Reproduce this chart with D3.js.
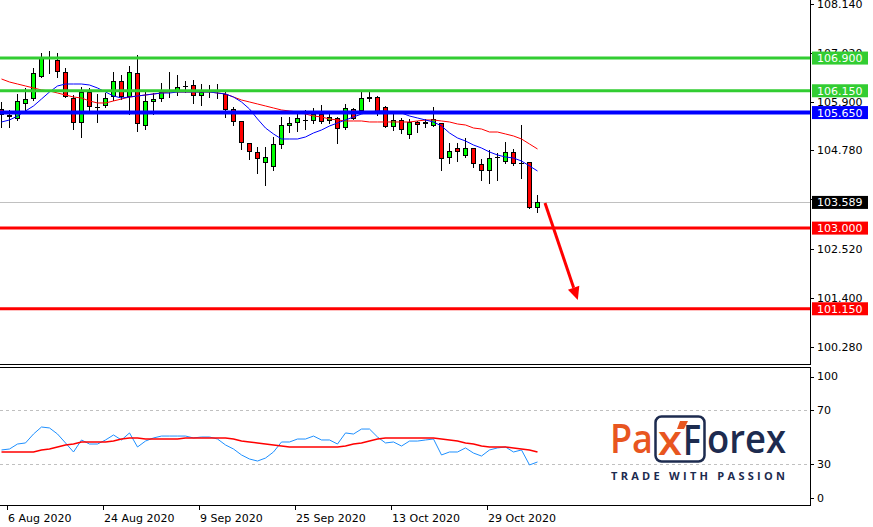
<!DOCTYPE html>
<html><head><meta charset="utf-8">
<script src="https://cdn.jsdelivr.net/npm/d3@7"></script>
<style>
body{margin:0;background:#fff}
svg{display:block}
text{font-family:"DejaVu Sans",sans-serif;font-size:11px}
</style>
</head><body>
<svg id="c" width="873" height="527"></svg>
<script>
// ---------- DATA ----------
const dates = ["2020-08-05","2020-08-06","2020-08-07","2020-08-10","2020-08-11","2020-08-12","2020-08-13","2020-08-14","2020-08-17","2020-08-18","2020-08-19","2020-08-20","2020-08-21","2020-08-24","2020-08-25","2020-08-26","2020-08-27","2020-08-28","2020-08-31",
"2020-09-01","2020-09-02","2020-09-03","2020-09-04","2020-09-07","2020-09-08","2020-09-09","2020-09-10","2020-09-11","2020-09-14","2020-09-15","2020-09-16","2020-09-17","2020-09-18","2020-09-21","2020-09-22","2020-09-23","2020-09-24","2020-09-25","2020-09-28","2020-09-29","2020-09-30",
"2020-10-01","2020-10-02","2020-10-05","2020-10-06","2020-10-07","2020-10-08","2020-10-09","2020-10-12","2020-10-13","2020-10-14","2020-10-15","2020-10-16","2020-10-19","2020-10-20","2020-10-21","2020-10-22","2020-10-23","2020-10-26","2020-10-27","2020-10-28","2020-10-29","2020-10-30",
"2020-11-02","2020-11-03","2020-11-04","2020-11-05","2020-11-06"];

const open  = [105.731,105.594,105.502,105.846,105.961,106.465,106.900,106.855,106.580,105.984,105.410,106.121,105.777,105.800,106.007,106.374,106.007,106.557,105.342,105.892,105.961,106.160,106.144,106.259,106.282,106.029,106.150,106.140,106.075,105.731,105.456,104.952,104.746,104.493,104.402,104.906,105.342,105.410,105.479,105.456,105.617,105.456,105.525,105.296,105.731,105.685,105.961,106.007,105.777,105.319,105.479,105.135,105.433,105.387,105.342,105.410,104.608,104.837,104.654,104.837,104.470,104.310,104.608,104.516,104.746,104.500,104.516,103.461];
const high  = [105.892,105.708,106.075,106.213,106.672,107.016,107.060,107.016,106.672,106.052,106.236,106.213,106.075,106.098,106.580,106.511,106.718,106.970,106.121,106.098,106.328,106.580,106.511,106.374,106.397,106.305,106.282,106.305,106.121,105.777,105.456,104.952,104.860,104.860,105.090,105.548,105.548,105.640,105.708,105.754,105.823,105.662,105.548,105.846,105.754,106.121,106.144,106.029,105.800,105.640,105.525,105.502,105.456,105.502,105.777,105.410,104.952,104.952,105.067,104.837,104.585,104.792,104.723,104.975,104.815,105.365,104.516,103.760];
const low   = [105.319,105.319,105.479,105.662,105.938,106.465,106.557,106.465,106.007,105.273,105.090,105.708,105.433,105.777,105.938,105.961,105.617,105.227,105.273,105.617,105.915,106.007,106.052,106.121,105.869,105.823,106.007,105.984,105.548,105.365,104.815,104.585,104.264,103.989,104.333,104.837,105.204,105.227,105.273,105.410,105.410,105.410,104.952,105.273,105.502,105.662,105.915,105.594,105.319,105.250,105.181,105.067,105.204,105.319,105.342,104.333,104.493,104.539,104.631,104.402,104.103,104.035,104.103,104.493,104.448,104.149,103.461,103.370];
const close = [105.594,105.548,105.915,105.961,106.557,106.901,106.890,106.580,106.007,105.410,106.121,105.777,105.780,105.984,106.374,106.007,106.580,105.387,105.915,105.961,106.121,106.150,106.236,106.262,106.029,106.121,106.140,106.150,105.708,105.433,104.952,104.746,104.585,104.631,104.929,105.365,105.410,105.525,105.482,105.617,105.433,105.548,105.273,105.754,105.502,105.984,106.007,105.617,105.319,105.479,105.250,105.433,105.365,105.433,105.502,104.585,104.769,104.746,104.837,104.470,104.310,104.608,104.631,104.746,104.470,104.493,103.461,103.589];

// moving averages
const maFast = [105.434,105.480,105.571,105.686,105.801,105.961,106.122,106.260,106.305,106.305,106.305,106.282,106.214,106.122,106.030,105.984,106.007,106.030,106.053,106.076,106.099,106.099,106.122,106.122,106.122,106.122,106.122,106.099,106.076,106.007,105.893,105.732,105.503,105.296,105.159,105.044,105.044,105.044,105.090,105.182,105.250,105.342,105.411,105.480,105.549,105.617,105.663,105.686,105.686,105.663,105.640,105.571,105.526,105.480,105.434,105.342,105.182,105.067,104.998,104.906,104.837,104.746,104.677,104.631,104.608,104.539,104.425,104.310];
const maSlow = [106.420,106.351,106.305,106.260,106.214,106.168,106.145,106.099,106.053,106.007,105.984,105.916,105.870,105.870,105.916,105.961,106.007,106.030,106.053,106.076,106.099,106.122,106.122,106.122,106.122,106.122,106.122,106.099,106.076,106.007,105.938,105.893,105.847,105.801,105.755,105.709,105.686,105.663,105.617,105.571,105.549,105.503,105.480,105.457,105.457,105.457,105.434,105.434,105.434,105.434,105.434,105.434,105.457,105.480,105.480,105.457,105.434,105.388,105.365,105.296,105.273,105.204,105.204,105.159,105.113,105.044,104.929,104.815];

// RSI panel
const rsi = [40.4,41.1,44.8,45.6,52.2,57.4,56.7,52.2,45.6,38.9,47.8,44.8,44.8,47.8,51.5,47.8,53.0,42.6,47.0,49.3,50.7,50.7,50.7,50.7,49.3,50.0,50.0,48.5,44.1,41.1,36.7,33.7,32.2,34.4,38.9,46.3,46.3,48.5,48.5,50.7,47.8,47.8,44.8,53.0,52.2,55.9,55.9,50.0,45.6,46.3,43.3,47.0,47.0,47.8,48.5,36.7,38.9,38.9,41.9,38.1,35.9,40.4,41.9,42.6,38.9,40.4,29.3,31.5];
const rsiSignal = [38.9,38.9,38.9,38.9,38.9,40.4,41.1,42.6,44.1,44.8,46.3,46.3,46.3,46.3,47.0,48.5,49.3,49.3,48.5,48.5,48.5,48.5,48.5,49.3,49.3,49.3,49.3,49.3,49.3,48.5,47.0,46.3,45.6,44.8,44.1,43.3,42.6,42.6,42.6,42.6,42.6,42.6,42.6,43.3,44.8,45.6,47.0,48.5,49.3,49.3,49.3,49.3,49.3,49.3,49.3,48.5,47.8,47.0,45.6,44.8,43.3,42.6,42.6,42.6,41.9,41.1,40.4,38.9];

const priceTicks = [108.140,107.020,105.900,104.780,103.660,102.520,101.400,100.280];
const levels     = [106.900,106.150,105.650,103.000,101.150];
const levelKinds = ["res","res","pivot","sup","sup"];
const rsiTicks   = [100,70,30,0];
const rsiLevels  = [70,30];
const dateTickIdx = [1,13,25,37,49,61];
const arrowFrom = [68, 103.576];
const arrowTo   = [72.1, 101.35];

// ---------- DRAW ----------
const svg = d3.select("#c");
svg.append("rect").attr("width",873).attr("height",527).attr("fill","#fff");

const W = 810, mainBottom = 365, rsiTop = 367, rsiBottom = 505;
const x  = d3.scaleLinear().domain([0, dates.length-1]).range([1, 1 + 8*(dates.length-1)]);
const y  = d3.scaleLinear().domain([100.28, 108.14]).range([346.7, 4]);
const yr = d3.scaleLinear().domain([0, 100]).range([504.5, 369.5]);
const parse = d3.timeParse("%Y-%m-%d");
const fmtDate = d3.timeFormat("%-d %b %Y");

const defs = svg.append("defs");
defs.append("clipPath").attr("id","cm").append("rect").attr("x",0).attr("y",0).attr("width",W).attr("height",mainBottom);
defs.append("clipPath").attr("id","cr").append("rect").attr("x",0).attr("y",rsiTop).attr("width",W).attr("height",rsiBottom-rsiTop);

const main = svg.append("g").attr("clip-path","url(#cm)");

// current price line
const last = close[close.length-1];
main.append("line").attr("x1",0).attr("x2",W)
  .attr("y1",Math.round(y(last))+0.5).attr("y2",Math.round(y(last))+0.5)
  .attr("stroke","#c0c0c0").attr("stroke-width",1);

// candles
const candles = main.append("g");
dates.forEach((d,i)=>{
  const cx = Math.round(x(i));
  const g = candles.append("g");
  g.append("line").attr("x1",cx+0.5).attr("x2",cx+0.5)
    .attr("y1",Math.round(y(high[i]))).attr("y2",Math.round(y(low[i]))+1)
    .attr("stroke","#000").attr("stroke-width",1);
  const yo = Math.round(y(open[i])), yc = Math.round(y(close[i]));
  const top = Math.min(yo,yc), bot = Math.max(yo,yc);
  if (bot - top < 2) {
    g.append("line").attr("x1",cx-2).attr("x2",cx+3).attr("y1",top+0.5).attr("y2",top+0.5)
      .attr("stroke","#000").attr("stroke-width",1);
  } else {
    g.append("rect").attr("x",cx-1.5).attr("y",top+0.5).attr("width",4).attr("height",bot-top-1)
      .attr("fill", close[i] >= open[i] ? "#00ff00" : "#ff0000")
      .attr("stroke","#000").attr("stroke-width",1);
  }
});

// moving averages
const lineP = arr => d3.line().x((d,i)=>x(i)+0.5).y(d=>y(d))(arr);
main.append("path").attr("d",lineP(maSlow)).attr("fill","none").attr("stroke","#ff0000").attr("stroke-width",1);
main.append("path").attr("d",lineP(maFast)).attr("fill","none").attr("stroke","#0000ff").attr("stroke-width",1);

// horizontal levels
const levelColor = {res:"#32cd32", pivot:"#0000ff", sup:"#ff0000"};
const levelWidth = {res:3, pivot:4, sup:3};
levels.forEach((v,i)=>{
  main.append("line").attr("x1",0).attr("x2",W).attr("y1",y(v)).attr("y2",y(v))
    .attr("stroke",levelColor[levelKinds[i]]).attr("stroke-width",levelWidth[levelKinds[i]]);
});

// arrow
{
  const x1 = x(arrowFrom[0]), y1 = y(arrowFrom[1]);
  const x2 = x(arrowTo[0]),   y2 = y(arrowTo[1]);
  const ang = Math.atan2(y2-y1, x2-x1);
  const hl = 13, hw = 6;
  const bx = x2 - hl*Math.cos(ang), by = y2 - hl*Math.sin(ang);
  svg.append("line").attr("x1",x1).attr("y1",y1).attr("x2",bx).attr("y2",by)
    .attr("stroke","#ff0000").attr("stroke-width",3);
  const px = -Math.sin(ang), py = Math.cos(ang);
  svg.append("path").attr("d",`M${x2},${y2}L${bx+hw*px},${by+hw*py}L${bx-hw*px},${by-hw*py}Z`)
    .attr("fill","#ff0000");
}

// frames
const frame = svg.append("g").attr("stroke","#000").attr("stroke-width",1).attr("shape-rendering","crispEdges");
frame.append("line").attr("x1",0).attr("x2",W+1).attr("y1",mainBottom-0.5).attr("y2",mainBottom-0.5);
frame.append("line").attr("x1",W+0.5).attr("x2",W+0.5).attr("y1",0).attr("y2",mainBottom);
frame.append("line").attr("x1",0).attr("x2",W+1).attr("y1",rsiTop+0.5).attr("y2",rsiTop+0.5);
frame.append("line").attr("x1",W+0.5).attr("x2",W+0.5).attr("y1",rsiTop).attr("y2",rsiBottom+1);
frame.append("line").attr("x1",0).attr("x2",W+1).attr("y1",rsiBottom+0.5).attr("y2",rsiBottom+0.5);

// price axis
const pa = svg.append("g");
const last_y = y(last);
priceTicks.forEach(v=>{
  const yy = Math.round(y(v));
  pa.append("line").attr("x1",W).attr("x2",W+4).attr("y1",yy+0.5).attr("y2",yy+0.5).attr("stroke","#000");
  // a tick label fully covered by the last-price marker is not visible
  if (Math.abs(y(v) - last_y) > 5)
    pa.append("text").attr("x",817).attr("y",yy).attr("dy","0.36em").attr("fill","#000").text(v.toFixed(3));
});
// level labels
const fmtP = d3.format(".3f");
levels.forEach((v,i)=>{
  const yy = y(v);
  pa.append("rect").attr("x",812).attr("y",yy-6.5).attr("width",56).attr("height",13)
    .attr("fill",levelColor[levelKinds[i]]);
  pa.append("text").attr("x",817).attr("y",yy).attr("dy","0.36em").attr("fill","#fff").text(fmtP(v));
});
pa.append("rect").attr("x",812).attr("y",last_y-6.5).attr("width",56).attr("height",13).attr("fill","#000");
pa.append("text").attr("x",817).attr("y",last_y).attr("dy","0.36em").attr("fill","#fff").text(fmtP(last));

// RSI panel
const rp = svg.append("g").attr("clip-path","url(#cr)");
rsiLevels.forEach(v=>{
  rp.append("line").attr("x1",0).attr("x2",W).attr("y1",Math.round(yr(v))+0.5).attr("y2",Math.round(yr(v))+0.5)
    .attr("stroke","#c0c0c0").attr("stroke-dasharray","3,3");
});
const lineR = arr => d3.line().x((d,i)=>x(i)+0.5).y(d=>yr(d))(arr);
rp.append("path").attr("d",lineR(rsi)).attr("fill","none").attr("stroke","#1e90ff").attr("stroke-width",1);
rp.append("path").attr("d",lineR(rsiSignal)).attr("fill","none").attr("stroke","#ff0000").attr("stroke-width",1.6);

rsiTicks.forEach(v=>{
  let yy = yr(v);
  if (v === 100) yy += 7; if (v === 0) yy -= 6.5;
  svg.append("line").attr("x1",W).attr("x2",W+4).attr("y1",Math.round(yy)+0.5).attr("y2",Math.round(yy)+0.5).attr("stroke","#000");
  svg.append("text").attr("x",817).attr("y",yy).attr("dy","0.36em").text(v);
});

// date axis
dateTickIdx.forEach(i=>{
  const xx = Math.round(x(i)) - 2;
  svg.append("line").attr("x1",xx+0.5).attr("x2",xx+0.5).attr("y1",rsiBottom+1).attr("y2",rsiBottom+5).attr("stroke","#000");
  svg.append("text").attr("x",xx+1).attr("y",522).text(fmtDate(parse(dates[i])));
});

// logo
const logo = svg.append("g");
const orange = "#e8561f", navy = "#1d2b4f";
const lf = "'Open Sans',sans-serif";
logo.append("rect").attr("x",655.5).attr("y",416.5).attr("width",49).attr("height",45).attr("rx",6)
  .attr("fill","none").attr("stroke",navy).attr("stroke-width",2.5);
logo.append("text").attr("x",610).attr("y",453).attr("fill",orange)
  .style("font-family",lf).style("font-size","40px").style("font-weight",600)
  .attr("textLength",43).attr("lengthAdjust","spacingAndGlyphs").text("Pa");
logo.append("text").attr("x",658).attr("y",455).attr("fill",orange)
  .style("font-family",lf).style("font-size","42px").style("font-weight",600)
  .attr("textLength",24).attr("lengthAdjust","spacingAndGlyphs").text("x");
logo.append("path").attr("d","M680,421 L688,421 L684,429 L677,429 Z").attr("fill",orange);
logo.append("text").attr("x",683).attr("y",455).attr("fill",navy)
  .style("font-family",lf).style("font-size","42px").style("font-weight",600)
  .attr("textLength",18).attr("lengthAdjust","spacingAndGlyphs").text("F");
logo.append("text").attr("x",707).attr("y",453).attr("fill",navy)
  .style("font-family",lf).style("font-size","40px").style("font-weight",600)
  .attr("textLength",79).attr("lengthAdjust","spacingAndGlyphs").text("orex");
logo.append("text").attr("x",611).attr("y",480).attr("fill",navy)
  .style("font-family",lf).style("font-size","11px").style("font-weight",700)
  .attr("textLength",174).attr("lengthAdjust","spacing").text("TRADE WITH PASSION");
</script>
</body></html>
